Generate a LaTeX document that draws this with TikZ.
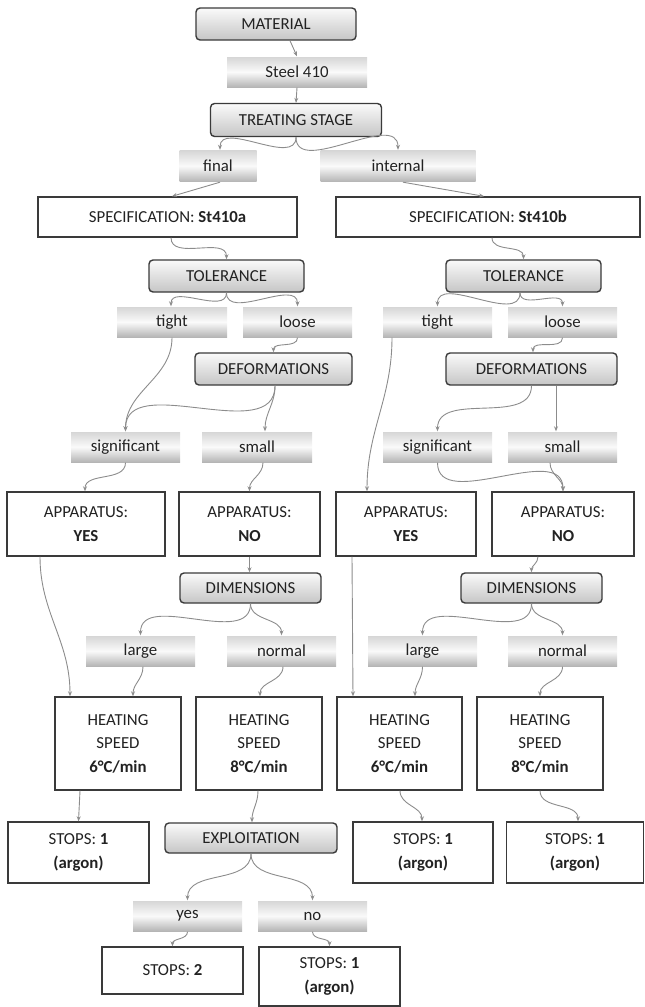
\documentclass[tikz,border=0pt]{standalone}
\usepackage{fontspec}
\setmainfont{Carlito}
\usepackage{tikz}
\usetikzlibrary{arrows.meta}
\definecolor{boxline}{HTML}{3A3A3A}
\definecolor{boxtext}{HTML}{222222}
\definecolor{wire}{HTML}{8C8C8C}

\begin{document}
\begin{tikzpicture}[x=1pt, y=-1pt, line width=1.4pt, color=boxline,
      every node/.append style={font=\fontsize{16.8}{23.5}\selectfont, text=boxtext, inner sep=0pt, align=center},
      wire/.style={draw=wire, line width=0.9pt, -{Stealth[length=5pt,width=4pt]}}]
  \tikzstyle{head} = [rounded corners=4pt, draw=boxline, top color=gray!4, bottom color=gray!45, minimum height=32pt]
  \tikzstyle{pick} = [draw=none, top color=gray!32, bottom color=gray!58, middle color=gray!4, minimum height=30pt, minimum width=109pt]
  \tikzstyle{plain} = [draw=boxline, fill=white]
  \useasboundingbox (0,0) rectangle (645,1007);

  \node (mat) [head, minimum width=160pt] at (276,24) {MATERIAL};
  \node (steel) [pick, minimum width=140pt] at (297,72) {Steel 410};
  \node (stage) [head, minimum width=171pt, minimum height=33pt] at (296,120) {TREATING STAGE};
  \node (final) [pick, minimum width=77pt, minimum height=31pt] at (218,166) {final};
  \node (internal) [pick, minimum width=155pt, minimum height=31pt] at (398,166) {internal};
  \node (specA) [plain, minimum width=259pt, minimum height=40pt] at (167.5,217) {SPECIFICATION: \textbf{St410a}};
  \node (specB) [plain, minimum width=304pt, minimum height=40pt] at (488,217) {SPECIFICATION: \textbf{St410b}};

  \node (tolA) [head, minimum width=155pt] at (226.5,276) {TOLERANCE};
  \node (tolB) [head, minimum width=155pt] at (523.5,276) {TOLERANCE};
  \node (tightA) [pick, minimum width=110pt] at (172,322) {tight};
  \node (looseA) [pick] at (297.5,322) {loose};
  \node (tightB) [pick] at (437.5,322) {tight};
  \node (looseB) [pick] at (562.5,322) {loose};
  \node (defA) [head, minimum width=157pt] at (273.5,369) {DEFORMATIONS};
  \node (defB) [head, minimum width=171pt] at (531.5,369) {DEFORMATIONS};
  \node (sigA) [pick] at (125.5,447) {significant};
  \node (smallA) [pick, minimum width=110pt] at (257,447) {small};
  \node (sigB) [pick] at (437.5,447) {significant};
  \node (smallB) [pick] at (562.5,447) {small};

  \node (appA1) [plain, minimum width=158pt, minimum height=64pt] at (86,524) {APPARATUS:\\\textbf{YES}};
  \node (appA2) [plain, minimum width=141pt, minimum height=64pt] at (249.5,524) {APPARATUS:\\\textbf{NO}};
  \node (appB1) [plain, minimum width=140pt, minimum height=64pt] at (406,524) {APPARATUS:\\\textbf{YES}};
  \node (appB2) [plain, minimum width=142pt, minimum height=64pt] at (563,524) {APPARATUS:\\\textbf{NO}};
  \node (dimA) [head, minimum width=141pt, minimum height=30pt] at (250.5,588) {DIMENSIONS};
  \node (dimB) [head, minimum width=141pt, minimum height=30pt] at (531.5,588) {DIMENSIONS};
  \node (largeA) [pick] at (140.5,651) {large};
  \node (normalA) [pick] at (281.5,651) {normal};
  \node (largeB) [pick] at (422.5,651) {large};
  \node (normalB) [pick] at (562.5,651) {normal};

  \node (heatA1) [plain, minimum width=126pt, minimum height=93pt] at (118,743.5) {HEATING\\SPEED\\\textbf{6°C/min}};
  \node (heatA2) [plain, minimum width=126pt, minimum height=93pt] at (259,743.5) {HEATING\\SPEED\\\textbf{8°C/min}};
  \node (heatB1) [plain, minimum width=125pt, minimum height=93pt] at (399.5,743.5) {HEATING\\SPEED\\\textbf{6°C/min}};
  \node (heatB2) [plain, minimum width=126pt, minimum height=93pt] at (540,743.5) {HEATING\\SPEED\\\textbf{8°C/min}};
  \node (stopA) [plain, minimum width=141pt, minimum height=61pt] at (78.5,852.5) {STOPS: \textbf{1}\\\textbf{(argon)}};
  \node (expl) [head, minimum width=172pt, minimum height=30pt] at (251,838) {EXPLOITATION};
  \node (stopB1) [plain, minimum width=140pt, minimum height=61pt] at (423,852.5) {STOPS: \textbf{1}\\\textbf{(argon)}};
  \node (stopB2) [plain, minimum width=137pt, minimum height=61pt] at (575,852.5) {STOPS: \textbf{1}\\\textbf{(argon)}};
  \node (yes) [pick] at (187.5,916) {yes};
  \node (no) [pick] at (312.5,916) {no};
  \node (stop2) [plain, minimum width=141pt, minimum height=47pt] at (172.5,970.5) {STOPS: \textbf{2}};
  \node (stop1) [plain, minimum width=141pt, minimum height=59pt] at (329.5,976.5) {STOPS: \textbf{1}\\\textbf{(argon)}};

  \draw[wire] ([xshift=14pt]mat.south) -- (steel.north);
  \draw[wire] (steel.south) -- (stage.north);
  \draw[wire] (stage.south) to[out=-90,in=90] ([xshift=2pt]final.north);
  \draw[wire] (stage.south) to[out=-90,in=90] (internal.north);
  \draw[wire] ([xshift=2pt]final.south) -- ([xshift=4.5pt]specA.north);
  \draw[wire] ([xshift=5pt]internal.south) -- ([xshift=-4pt]specB.north);
  \draw[wire] ([xshift=3.5pt]specA.south) to[out=-90,in=90] (tolA.north);
  \draw[wire] ([xshift=4pt]specB.south) to[out=-90,in=90] (tolB.north);

  \draw[wire] (tolA.south) to[out=-90,in=90] ([xshift=-1pt]tightA.north);
  \draw[wire] (tolA.south) to[out=-90,in=90] (looseA.north);
  \draw[wire] ([xshift=-3.5pt]tolB.south) to[out=-90,in=90] (tightB.north);
  \draw[wire] ([xshift=-3.5pt]tolB.south) to[out=-90,in=90] (looseB.north);
  \draw[wire] (tightA.south) to[out=-90,in=90] (sigA.north);
  \draw[wire] (looseA.south) to[out=-90,in=90] (defA.north);
  \draw[wire] ([xshift=1.5pt]defA.south) to[out=-90,in=90] (sigA.north);
  \draw[wire] ([xshift=1.5pt]defA.south) to[out=-90,in=90] ([xshift=8pt]smallA.north);
  \draw[wire] (sigA.south) to[out=-90,in=90] ([xshift=-1pt]appA1.north);
  \draw[wire] ([xshift=6pt]smallA.south) to[out=-90,in=90] (appA2.north);
  \draw[wire] ([xshift=-45.5pt]tightB.south) to[out=-90,in=90] ([xshift=-39pt]appB1.north);
  \draw[wire] (looseB.south) to[out=-90,in=90] ([xshift=1.5pt]defB.north);
  \draw[wire] (defB.south) to[out=-90,in=90] (sigB.north);
  \draw[wire] ([xshift=24.5pt]defB.south) -- ([xshift=-6.5pt]smallB.north);
  \draw[wire] (sigB.south) to[out=-90,in=90] (appB2.north);
  \draw[wire] ([xshift=-12.5pt]smallB.south) to[out=-90,in=90] (appB2.north);

  \draw[wire] ([xshift=-46pt]appA1.south) to[out=-90,in=90] ([xshift=-48pt]heatA1.north);
  \draw[wire] (appA2.south) -- ([xshift=-1pt]dimA.north);
  \draw[wire] (dimA.south) to[out=-90,in=90] (largeA.north);
  \draw[wire] (dimA.south) to[out=-90,in=90] (normalA.north);
  \draw[wire] ([xshift=2.5pt]largeA.south) to[out=-90,in=90] ([xshift=15pt]heatA1.north);
  \draw[wire] ([xshift=1.5pt]normalA.south) to[out=-90,in=90] ([xshift=1pt]heatA2.north);
  \draw[wire] ([xshift=-54pt]appB1.south) -- ([xshift=-46.5pt]heatB1.north);
  \draw[wire] ([xshift=-25pt]appB2.south) to[out=-90,in=90] (dimB.north);
  \draw[wire] (dimB.south) to[out=-90,in=90] (largeB.north);
  \draw[wire] (dimB.south) to[out=-90,in=90] (normalB.north);
  \draw[wire] (largeB.south) to[out=-90,in=90] ([xshift=15.5pt]heatB1.north);
  \draw[wire] (normalB.south) to[out=-90,in=90] (heatB2.north);

  \draw[wire] ([xshift=-38pt]heatA1.south) -- (stopA.north);
  \draw[wire] ([xshift=-1pt]heatA2.south) to[out=-90,in=90] ([xshift=1pt]expl.north);
  \draw[wire] ([xshift=0.5pt]heatB1.south) to[out=-90,in=90] ([xshift=-1pt]stopB1.north);
  \draw[wire] (heatB2.south) to[out=-90,in=90] ([xshift=3pt]stopB2.north);
  \draw[wire] (expl.south) to[out=-90,in=90] (yes.north);
  \draw[wire] (expl.south) to[out=-90,in=90] (no.north);
  \draw[wire] (yes.south) to[out=-90,in=90] (stop2.north);
  \draw[wire] (no.south) to[out=-90,in=90] (stop1.north);
\end{tikzpicture}
\end{document}
